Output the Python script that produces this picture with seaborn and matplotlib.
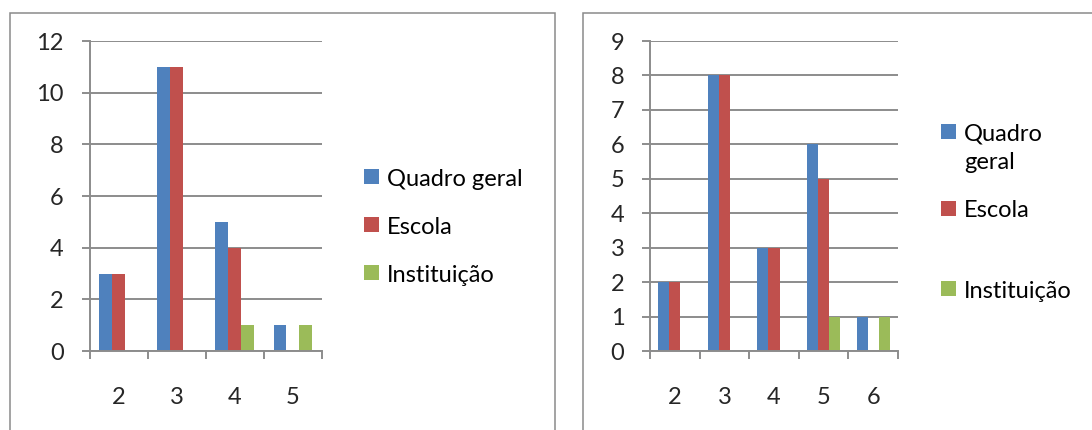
import numpy as np
import pandas as pd
import matplotlib
matplotlib.use("Agg")
import matplotlib.pyplot as plt
from matplotlib.patches import Rectangle
from matplotlib.ticker import MultipleLocator, FixedLocator
import seaborn as sns

# ---- data -------------------------------------------------------------
series = ["Quadro geral", "Escola", "Instituição"]

left_categories = ["2", "3", "4", "5"]
left_quadro = [3, 11, 5, 1]
left_escola = [3, 11, 4, 0]
left_instituicao = [0, 0, 1, 1]

right_categories = ["2", "3", "4", "5", "6"]
right_quadro = [2, 8, 3, 6, 1]
right_escola = [2, 8, 3, 5, 0]
right_instituicao = [0, 0, 0, 1, 1]

colors = ["#4F81BD", "#C0504D", "#9BBB59"]
grid_grey = "#8C8C8C"
frame_grey = "#8A8A8A"

W, H = 1092, 430

sns.set_style("white")
plt.rcParams["font.family"] = ["Lato", "DejaVu Sans"]
FS = 17


def long_table(cats, q, e, i):
    rows = []
    for name, vals in zip(series, [q, e, i]):
        for c, v in zip(cats, vals):
            rows.append({"cat": c, "serie": name, "valor": v})
    return pd.DataFrame(rows)


def fx(px):
    return px / W


def fy(py):
    return 1 - py / H


def draw_panel(ax, df, cats, ymax, ystep):
    sns.barplot(data=df, x="cat", y="valor", hue="serie", order=cats,
                hue_order=series, palette=colors, saturation=1,
                width=2 / 3, gap=0, linewidth=0, legend=False, ax=ax)
    n = len(cats)
    ax.set_xlim(-0.5, n - 0.5)
    ax.set_ylim(0, ymax)
    ax.yaxis.set_major_locator(MultipleLocator(ystep))
    ax.xaxis.set_minor_locator(FixedLocator(np.arange(-0.5, n, 1.0)))
    ax.set_xlabel("")
    ax.set_ylabel("")
    ax.yaxis.grid(True, color=grid_grey, linewidth=1.4)
    ax.set_axisbelow(True)
    for s in ["top", "right"]:
        ax.spines[s].set_visible(False)
    for s in ["left", "bottom"]:
        ax.spines[s].set_color(grid_grey)
        ax.spines[s].set_linewidth(1.4)
    ax.tick_params(axis="x", which="major", length=0, pad=26, labelsize=FS)
    ax.tick_params(axis="x", which="minor", length=5.5, width=1.4,
                   color=grid_grey, direction="out", bottom=True)
    ax.tick_params(axis="y", which="major", length=5.5, width=1.4,
                   color=grid_grey, direction="out", left=True, pad=13,
                   labelsize=FS)


def draw_legend(fig, x_sq, sq, entries):
    # entries: (label lines, square top px, list of baselines px)
    for color, (lines, top, baselines) in zip(colors, entries):
        fig.add_artist(Rectangle((fx(x_sq), fy(top + sq)), sq / W, sq / H,
                                 transform=fig.transFigure, facecolor=color,
                                 edgecolor="none"))
        for line, base in zip(lines, baselines):
            fig.text(fx(x_sq + sq + 8), fy(base), line, fontsize=FS,
                     va="baseline", ha="left", color="black")


fig = plt.figure(figsize=(W / 100, H / 100), dpi=100)

# panel frames (open at the bottom)
fig.add_artist(Rectangle((fx(9.5), -0.05), fx(555.3) - fx(9.5), fy(12.7) + 0.05,
                         transform=fig.transFigure, fill=False,
                         edgecolor=frame_grey, linewidth=1.1))
fig.add_artist(Rectangle((fx(583.3), -0.05), 1.0, fy(12.7) + 0.05,
                         transform=fig.transFigure, fill=False,
                         edgecolor=frame_grey, linewidth=1.1))

ax1 = fig.add_axes([fx(89.5), fy(351), fx(322) - fx(89.5), fy(41) - fy(351)])
draw_panel(ax1, long_table(left_categories, left_quadro, left_escola,
                           left_instituicao),
           left_categories, 12, 2)

ax2 = fig.add_axes([fx(650), fy(351), fx(898) - fx(650), fy(41) - fy(351)])
draw_panel(ax2, long_table(right_categories, right_quadro, right_escola,
                           right_instituicao),
           right_categories, 9, 1)

draw_legend(fig, 364, 15, [
    (["Quadro geral"], 169, [186]),
    (["Escola"], 217, [234]),
    (["Instituição"], 265, [282]),
])
draw_legend(fig, 941, 15, [
    (["Quadro", "geral"], 124, [141, 169]),
    (["Escola"], 201, [217]),
    (["Instituição"], 281, [298]),
])

fig.savefig("out.png", dpi=100)
